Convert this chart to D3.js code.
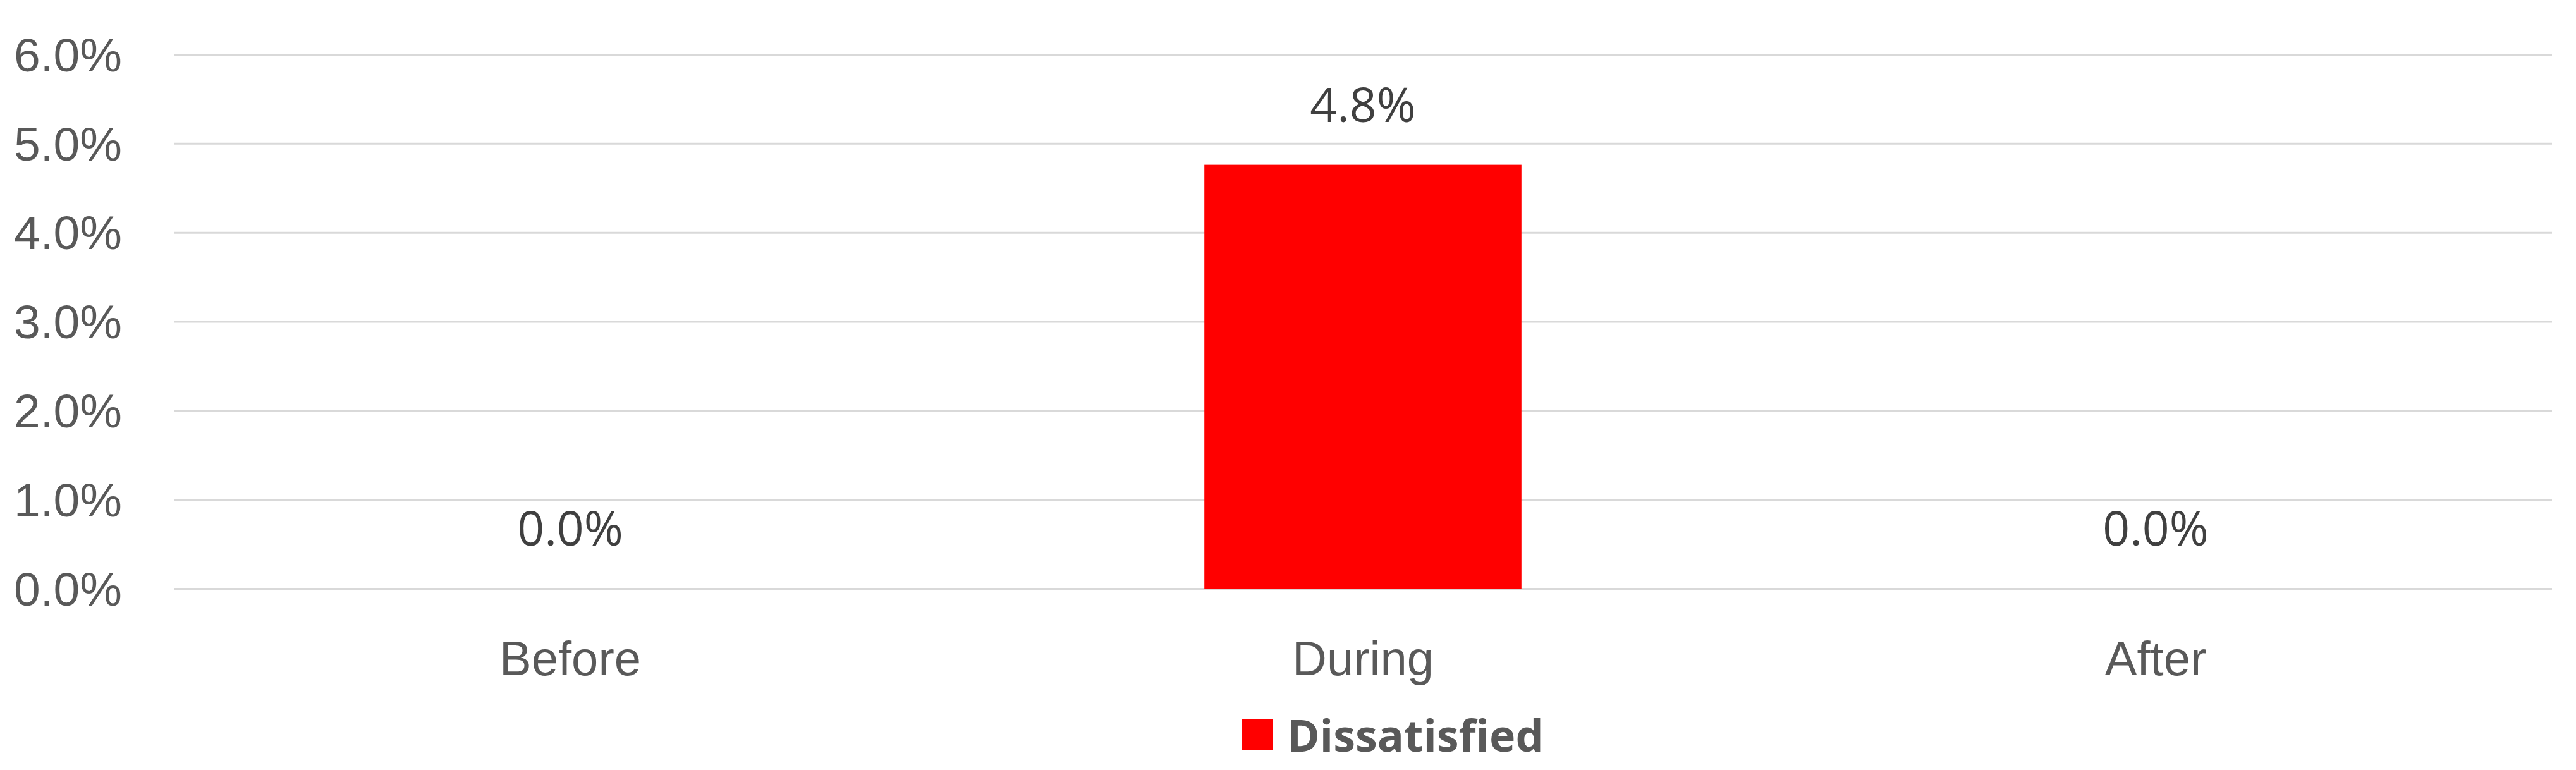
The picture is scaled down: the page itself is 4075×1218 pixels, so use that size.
<!DOCTYPE html>
<html>
<head>
<meta charset="utf-8">
<script src="https://cdn.jsdelivr.net/npm/d3@7"></script>
<style>
  body { margin: 0; background: #fff; }
  svg { display: block; font-family: "Open Sans", "Noto Sans", sans-serif; }
</style>
</head>
<body>
<svg class="svg-chart"></svg>
<script>
// Dissatisfied share before / during / after
var categories = ["Before", "During", "After"];
var dissatisfied = [0.0, 0.0476, 0.0];
var yTicks = [0, 0.01, 0.02, 0.03, 0.04, 0.05, 0.06];
var seriesName = "Dissatisfied";

var W = 4075, H = 1218;
var margin = {top: 86, right: 38, bottom: 287, left: 275},
    width = W - margin.left - margin.right,
    height = H - margin.top - margin.bottom;

var svg = d3.select(".svg-chart")
    .attr("width", W)
    .attr("height", H);

var chart = svg.append("g")
    .attr("transform", "translate(" + margin.left + "," + margin.top + ")");

var x = d3.scaleBand()
    .domain(categories)
    .range([0, width])
    .paddingInner(0.6)
    .paddingOuter(0.3);

var y = d3.scaleLinear()
    .domain([0, 0.06])
    .range([height, 0]);

// gridlines + y labels
var yAxis = d3.axisLeft(y)
    .tickValues(yTicks)
    .tickFormat(d3.format(".1%"))
    .tickSize(-width)
    .tickPadding(82);

var gy = chart.append("g").call(yAxis);
gy.select(".domain").remove();
gy.selectAll("line").style("stroke", "#d9d9d9").style("stroke-width", 3);
gy.selectAll("text")
    .style("font-size", "75px")
    .style("fill", "#595959")
    .attr("dy", "0.35em");

// bars
chart.selectAll(".bar")
    .data(dissatisfied)
    .enter().append("rect")
    .attr("class", "bar")
    .attr("x", function(d, i) { return x(categories[i]); })
    .attr("y", function(d) { return y(d); })
    .attr("width", x.bandwidth())
    .attr("height", function(d) { return height - y(d); })
    .style("fill", "#ff0000");

// data labels
chart.selectAll(".lbl")
    .data(dissatisfied)
    .enter().append("text")
    .attr("class", "lbl")
    .attr("x", function(d, i) { return x(categories[i]) + x.bandwidth() / 2; })
    .attr("y", function(d) { return y(d) - 68; })
    .attr("text-anchor", "middle")
    .style("font-size", "75px")
    .style("fill", "#404040")
    .text(function(d) { return d3.format(".1%")(d); });

// category axis
var xAxis = d3.axisBottom(x).tickSize(0).tickPadding(83);
var gx = chart.append("g")
    .attr("transform", "translate(0," + height + ")")
    .call(xAxis);
gx.select(".domain").remove();
gx.selectAll("text")
    .style("font-size", "76px")
    .style("fill", "#595959");

// legend
var legend = svg.append("g")
    .attr("transform", "translate(1964,1137)");
legend.append("rect")
    .attr("width", 50)
    .attr("height", 50)
    .style("fill", "#ff0000");
legend.append("text")
    .attr("x", 72)
    .attr("y", 52)
    .style("font-size", "70px")
    .style("font-weight", "bold")
    .style("fill", "#595959")
    .text(seriesName);
</script>
</body>
</html>
